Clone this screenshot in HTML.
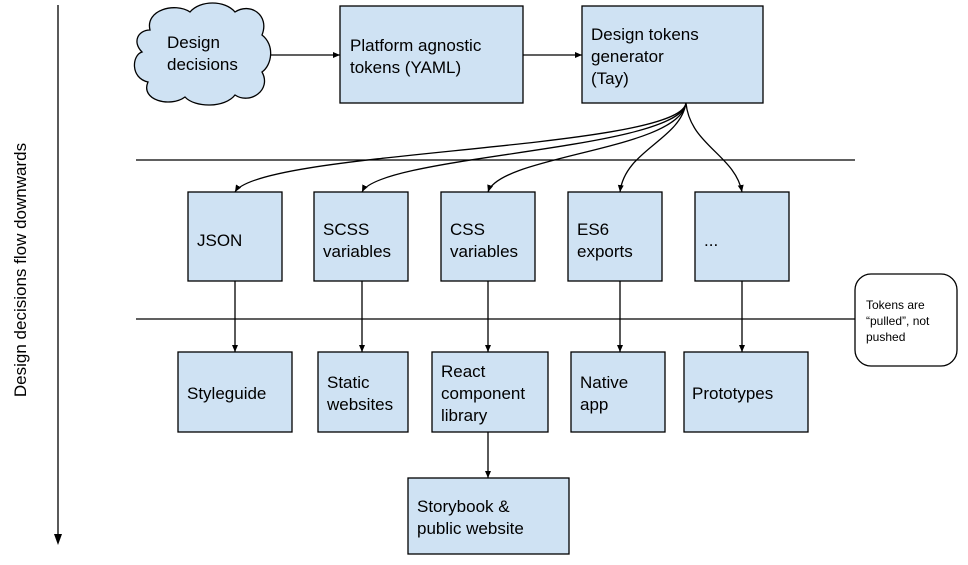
<!DOCTYPE html>
<html><head><style>body{margin:0;background:#fff}svg{display:block}text{font-family:"Liberation Sans",Arial,sans-serif;font-size:17px;fill:#000}</style></head><body>
<svg width="968" height="565" viewBox="0 0 968 565" xmlns="http://www.w3.org/2000/svg">
<defs><marker id="a" markerWidth="8" markerHeight="8" refX="7" refY="4" orient="auto" markerUnits="userSpaceOnUse"><path d="M0,1 L7,4 L0,7z" fill="#000"/></marker></defs>
<g stroke="#000" stroke-width="1.3" fill="none">
<line x1="58" y1="5" x2="58" y2="536"/>
<line x1="136" y1="160" x2="855" y2="160"/>
<line x1="136" y1="319" x2="855" y2="319"/>
<line x1="268" y1="55" x2="340" y2="55" marker-end="url(#a)"/>
<line x1="523" y1="55" x2="582" y2="55" marker-end="url(#a)"/>
<path d="M686,103 C680,150 260,150 235,192" marker-end="url(#a)"/>
<path d="M686,103 C680,150 380,155 362,192" marker-end="url(#a)"/>
<path d="M686,103 C680,150 500,155 488,192" marker-end="url(#a)"/>
<path d="M686,103 C680,140 625,150 620,192" marker-end="url(#a)"/>
<path d="M686,103 C690,145 735,155 742,192" marker-end="url(#a)"/>
<line x1="235" y1="281" x2="235" y2="352" marker-end="url(#a)"/>
<line x1="362" y1="281" x2="362" y2="352" marker-end="url(#a)"/>
<line x1="488" y1="281" x2="488" y2="352" marker-end="url(#a)"/>
<line x1="620" y1="281" x2="620" y2="352" marker-end="url(#a)"/>
<line x1="742" y1="281" x2="742" y2="352" marker-end="url(#a)"/>
<line x1="488" y1="432" x2="488" y2="478" marker-end="url(#a)"/>
</g>
<path d="M54,534 L62,534 L58,545z" fill="#000"/>
<path d="M150,30 C145,10 175,2 190,12 C200,0 225,0 235,12 C250,2 270,15 262,35 C275,45 272,65 262,72 C272,90 250,105 235,95 C225,108 195,108 185,97 C170,108 140,100 148,82 C130,78 132,55 142,52 C132,42 138,30 150,30z" fill="#cfe2f3" stroke="#000" stroke-width="1.3"/>
<g fill="#cfe2f3" stroke="#000" stroke-width="1.3">
<rect x="340" y="6" width="183" height="97"/>
<rect x="582" y="6" width="181" height="97"/>
<rect x="188" y="192" width="94" height="89"/>
<rect x="314" y="192" width="94" height="89"/>
<rect x="441" y="192" width="94" height="89"/>
<rect x="568" y="192" width="94" height="89"/>
<rect x="695" y="192" width="94" height="89"/>
<rect x="178" y="352" width="114" height="80"/>
<rect x="318" y="352" width="90" height="80"/>
<rect x="432" y="352" width="116" height="80"/>
<rect x="571" y="352" width="94" height="80"/>
<rect x="684" y="352" width="124" height="80"/>
<rect x="408" y="478" width="161" height="76"/>
</g>
<rect x="855" y="274" width="102" height="92" rx="16" fill="#fff" stroke="#000" stroke-width="1.3"/>
<text x="167" y="48">Design</text><text x="167" y="70">decisions</text>
<text x="350" y="51">Platform agnostic</text><text x="350" y="73">tokens (YAML)</text>
<text x="591" y="40">Design tokens</text><text x="591" y="62">generator</text><text x="591" y="84">(Tay)</text>
<text x="197" y="246">JSON</text>
<text x="323" y="235">SCSS</text><text x="323" y="257">variables</text>
<text x="450" y="235">CSS</text><text x="450" y="257">variables</text>
<text x="577" y="235">ES6</text><text x="577" y="257">exports</text>
<text x="704" y="246">...</text>
<text x="187" y="399">Styleguide</text>
<text x="327" y="388">Static</text><text x="327" y="410">websites</text>
<text x="441" y="377">React</text><text x="441" y="399">component</text><text x="441" y="421">library</text>
<text x="580" y="388">Native</text><text x="580" y="410">app</text>
<text x="692" y="399">Prototypes</text>
<text x="417" y="512">Storybook &amp;</text><text x="417" y="534">public website</text>
<text x="866" y="309" style="font-size:12px">Tokens are</text><text x="866" y="325" style="font-size:12px">“pulled”, not</text><text x="866" y="341" style="font-size:12px">pushed</text>
<text x="0" y="0" transform="translate(26,270) rotate(-90)" text-anchor="middle">Design decisions flow downwards</text>
</svg>
</body></html>
